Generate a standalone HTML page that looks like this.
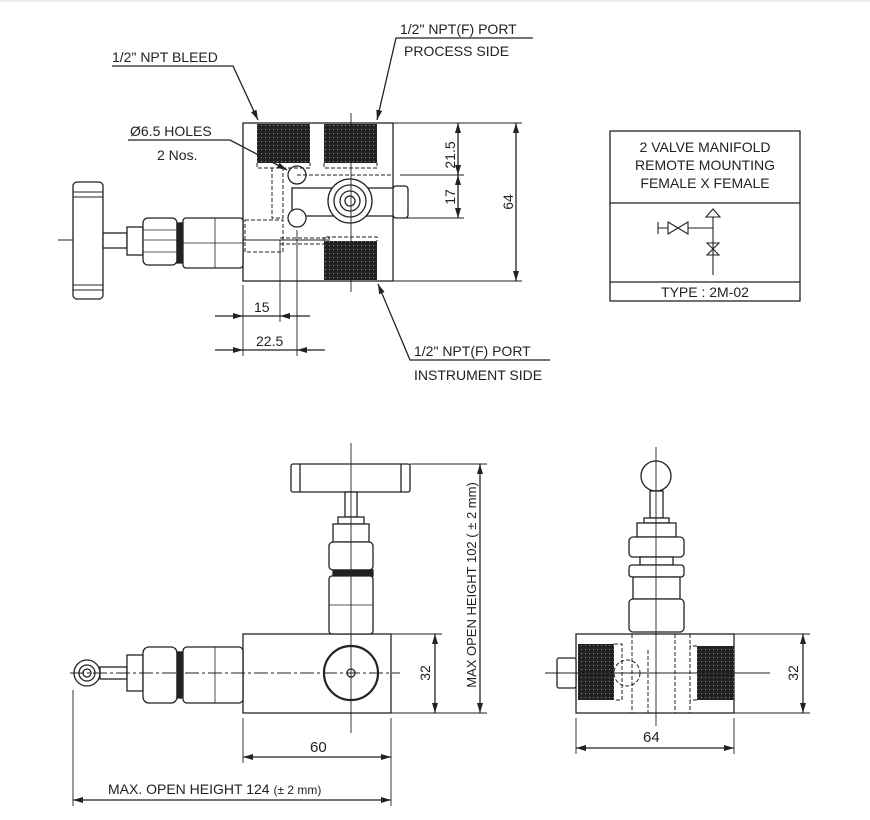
<!DOCTYPE html>
<html><head><meta charset="utf-8"><style>
html,body{margin:0;padding:0;background:#fff;}
svg{display:block;}
text{font-family:"Liberation Sans",sans-serif;fill:#222;}
</style></head><body>
<svg width="870" height="820" viewBox="0 0 870 820" xmlns="http://www.w3.org/2000/svg">
<defs>
<marker id="a" viewBox="0 0 10 6" refX="10" refY="3" markerWidth="10" markerHeight="6" orient="auto-start-reverse" markerUnits="userSpaceOnUse"><path d="M0,0 L10,3 L0,6 z" fill="#222"/></marker>
<pattern id="h" width="4" height="4" patternUnits="userSpaceOnUse"><rect width="4" height="4" fill="#222"/><rect x="1" y="1" width="1" height="1" fill="#888"/></pattern>
</defs>
<rect x="0" y="0" width="870" height="2" fill="#e3eef8"/>
<g stroke="#222" stroke-width="1.3" fill="none">
<!-- TOP VIEW -->
<rect x="243" y="123" width="150" height="158" fill="#fff"/>
<rect x="257" y="124" width="53" height="39" fill="url(#h)" stroke="none"/>
<rect x="324" y="124" width="53" height="39" fill="url(#h)" stroke="none"/>
<rect x="324" y="241" width="53" height="39" fill="url(#h)" stroke="none"/>
<g stroke-dasharray="4,2" stroke-width="1">
<path d="M257 163 V168 H310 V163 M324 163 V168 H377 V163 M324 241 V237 H377 V241"/>
<path d="M272 168 V218 H283 V168 M280 238 H330 M280 244 H330 M297 175 H393"/>
<rect x="245" y="220" width="38" height="32"/>
</g>
<circle cx="297" cy="175" r="9"/>
<rect x="292" y="188" width="115" height="28" fill="#fff"/>
<rect x="393" y="186" width="15" height="32" rx="3" fill="#fff"/>
<path d="M297 209 a9 9 0 1 0 0.1 0" fill="#fff"/>
<circle cx="350" cy="201" r="22" fill="#fff"/>
<circle cx="350" cy="201" r="16"/><circle cx="350" cy="201" r="10"/><circle cx="350" cy="201" r="5"/>
<line x1="351" y1="113" x2="351" y2="292" stroke-width="0.9"/>
<line x1="58" y1="240" x2="330" y2="240" stroke-width="0.9"/>
<rect x="73" y="182" width="30" height="117" rx="4" fill="#fff"/>
<path d="M73 192 H103 M73 197 H103 M73 285 H103 M73 290 H103" stroke-width="0.9"/>
<rect x="103" y="233" width="24" height="15" fill="#fff"/>
<rect x="127" y="227" width="16" height="28" fill="#fff"/>
<rect x="143" y="218" width="34" height="47" rx="5" fill="#fff"/>
<path d="M143 240 H177 M143 230 H177 M143 252 H177" stroke-width="0.8"/>
<rect x="177" y="223" width="6" height="40" fill="#222"/>
<rect x="183" y="218" width="60" height="50" rx="3" fill="#fff"/>
<path d="M215 218 V268 M183 243 H243" stroke-width="0.8"/>
<!-- top dims -->
<path d="M393 123 H522 M393 281 H522 M400 175 H464 M400 218 H464" stroke-width="0.9"/>
<line x1="516" y1="123" x2="516" y2="281" marker-start="url(#a)" marker-end="url(#a)"/>
<line x1="458" y1="123" x2="458" y2="175" marker-start="url(#a)" marker-end="url(#a)"/>
<line x1="458" y1="175" x2="458" y2="218" marker-start="url(#a)" marker-end="url(#a)"/>
<path d="M243 285 V356 M280 240 V322 M297 230 V356" stroke-width="0.9"/>
<line x1="215" y1="316" x2="243" y2="316" marker-end="url(#a)"/>
<line x1="310" y1="316" x2="280" y2="316" marker-end="url(#a)"/>
<line x1="243" y1="316" x2="280" y2="316"/>
<line x1="215" y1="350" x2="243" y2="350" marker-end="url(#a)"/>
<line x1="325" y1="350" x2="297" y2="350" marker-end="url(#a)"/>
<line x1="243" y1="350" x2="297" y2="350"/>
<!-- leaders -->
<path d="M112 66 H233 L258 120" marker-end="url(#a)"/>
<path d="M533 38 H396 L377 120" marker-end="url(#a)"/>
<path d="M128 140 H230 L287 170" marker-end="url(#a)"/>
<path d="M550 360 H410 L378 284" marker-end="url(#a)"/>
<!-- LEGEND -->
<rect x="610" y="131" width="190" height="170"/>
<path d="M610 203 H800 M610 282 H800"/>
<path d="M658 222 V234 M658 228 H668 M668 222 L668 234 L678 228 Z M688 222 L688 234 L678 228 Z M688 228 H713 M713 217 V275 M713 209 L706 217 H720 Z M707 243 H719 L713 249 Z M707 255 H719 L713 249 Z" stroke-width="1.1"/>
<!-- FRONT VIEW -->
<rect x="243" y="634" width="148" height="79" fill="#fff"/>
<circle cx="351" cy="673" r="27" stroke-width="2.2"/>
<circle cx="351" cy="673" r="4"/>
<rect x="291" y="464" width="119" height="28" rx="2" fill="#fff"/>
<path d="M300 464 V492 M401 464 V492"/>
<rect x="345" y="492" width="12" height="25" fill="#fff"/>
<rect x="338" y="517" width="26" height="7" fill="#fff"/>
<rect x="333" y="524" width="36" height="18" fill="#fff"/>
<rect x="329" y="542" width="44" height="28" rx="4" fill="#fff"/>
<rect x="333" y="570" width="40" height="6" fill="#222"/>
<rect x="329" y="576" width="44" height="58" rx="3" fill="#fff"/>
<path d="M329 605 H373" stroke-width="0.8"/>
<circle cx="87" cy="673" r="13" fill="#fff"/><circle cx="87" cy="673" r="8"/><circle cx="87" cy="673" r="4"/>
<rect x="100" y="667" width="27" height="12" fill="#fff"/>
<rect x="127" y="655" width="16" height="36" fill="#fff"/>
<rect x="143" y="647" width="34" height="56" rx="6" fill="#fff"/>
<rect x="177" y="652" width="6" height="46" fill="#222"/>
<rect x="183" y="647" width="60" height="56" rx="4" fill="#fff"/>
<path d="M215 647 V703" stroke-width="0.8"/>
<line x1="351" y1="443" x2="351" y2="733" stroke-width="0.9"/>
<line x1="70" y1="673" x2="400" y2="673" stroke-width="0.9" stroke-dasharray="14,3,3,3"/>
<path d="M391 634 H442 M391 713 H442 M410 464 H487 M391 713 H487 M243 718 V763 M391 718 V806 M73 690 V806" stroke-width="0.9"/>
<line x1="435" y1="634" x2="435" y2="713" marker-start="url(#a)" marker-end="url(#a)"/>
<line x1="480" y1="464" x2="480" y2="713" marker-start="url(#a)" marker-end="url(#a)"/>
<line x1="243" y1="757" x2="391" y2="757" marker-start="url(#a)" marker-end="url(#a)"/>
<line x1="73" y1="800" x2="391" y2="800" marker-start="url(#a)" marker-end="url(#a)"/>
<!-- SIDE VIEW -->
<rect x="576" y="634" width="158" height="79" fill="#fff"/>
<rect x="578" y="644" width="36" height="56" fill="url(#h)" stroke="none"/>
<rect x="697" y="646" width="37" height="54" fill="url(#h)" stroke="none"/>
<rect x="557" y="658" width="19" height="30" rx="2" fill="#fff"/>
<g stroke-dasharray="4,2" stroke-width="1">
<path d="M632 634 V713 M648 650 V713 M675 634 V713 M690 634 V713 M614 644 H622 V700 H614 M697 646 H690 M697 700 H690 M620 673 H697"/>
<circle cx="627" cy="673" r="13"/>
</g>
<circle cx="656" cy="476" r="15" fill="#fff"/>
<rect x="650" y="491" width="13" height="27" fill="#fff"/>
<rect x="644" y="518" width="25" height="5" fill="#fff"/>
<rect x="637" y="523" width="39" height="14" fill="#fff"/>
<rect x="629" y="537" width="55" height="20" rx="4" fill="#fff"/>
<rect x="640" y="557" width="33" height="8" fill="#fff"/>
<rect x="629" y="565" width="55" height="12" rx="3" fill="#fff"/>
<rect x="633" y="577" width="47" height="22" fill="#fff"/>
<rect x="629" y="599" width="55" height="33" rx="4" fill="#fff"/>
<line x1="656" y1="447" x2="656" y2="726" stroke-width="0.9"/>
<line x1="545" y1="673" x2="770" y2="673" stroke-width="0.9"/>
<path d="M734 634 H810 M734 713 H810 M576 718 V754 M734 718 V754" stroke-width="0.9"/>
<line x1="803" y1="634" x2="803" y2="713" marker-start="url(#a)" marker-end="url(#a)"/>
<line x1="576" y1="748" x2="734" y2="748" marker-start="url(#a)" marker-end="url(#a)"/>
</g>
<!-- TEXT -->
<g font-size="14">
<text x="112" y="62">1/2" NPT BLEED</text>
<text x="400" y="34">1/2" NPT(F) PORT</text>
<text x="404" y="56">PROCESS SIDE</text>
<text x="130" y="136">Ø6.5 HOLES</text>
<text x="157" y="160">2 Nos.</text>
<text x="414" y="356">1/2" NPT(F) PORT</text>
<text x="414" y="380">INSTRUMENT SIDE</text>
<text x="254" y="312">15</text>
<text x="256" y="346">22.5</text>
<text x="643" y="742" font-size="15">64</text>
<text x="310" y="752" font-size="15">60</text>
<text x="108" y="794">MAX. OPEN HEIGHT 124 <tspan font-size="12">(± 2 mm)</tspan></text>
<text transform="translate(455 155) rotate(-90)" text-anchor="middle">21.5</text>
<text transform="translate(455 197) rotate(-90)" text-anchor="middle">17</text>
<text transform="translate(513 202) rotate(-90)" text-anchor="middle">64</text>
<text transform="translate(430 673) rotate(-90)" text-anchor="middle">32</text>
<text transform="translate(798 673) rotate(-90)" text-anchor="middle">32</text>
<text transform="translate(476 585) rotate(-90)" text-anchor="middle" font-size="13">MAX OPEN HEIGHT 102 ( ± 2 mm)</text>
<text x="705" y="152" text-anchor="middle">2 VALVE MANIFOLD</text>
<text x="705" y="170" text-anchor="middle">REMOTE MOUNTING</text>
<text x="705" y="188" text-anchor="middle">FEMALE X FEMALE</text>
<text x="705" y="297" text-anchor="middle">TYPE : 2M-02</text>
</g>
</svg>
</body></html>
